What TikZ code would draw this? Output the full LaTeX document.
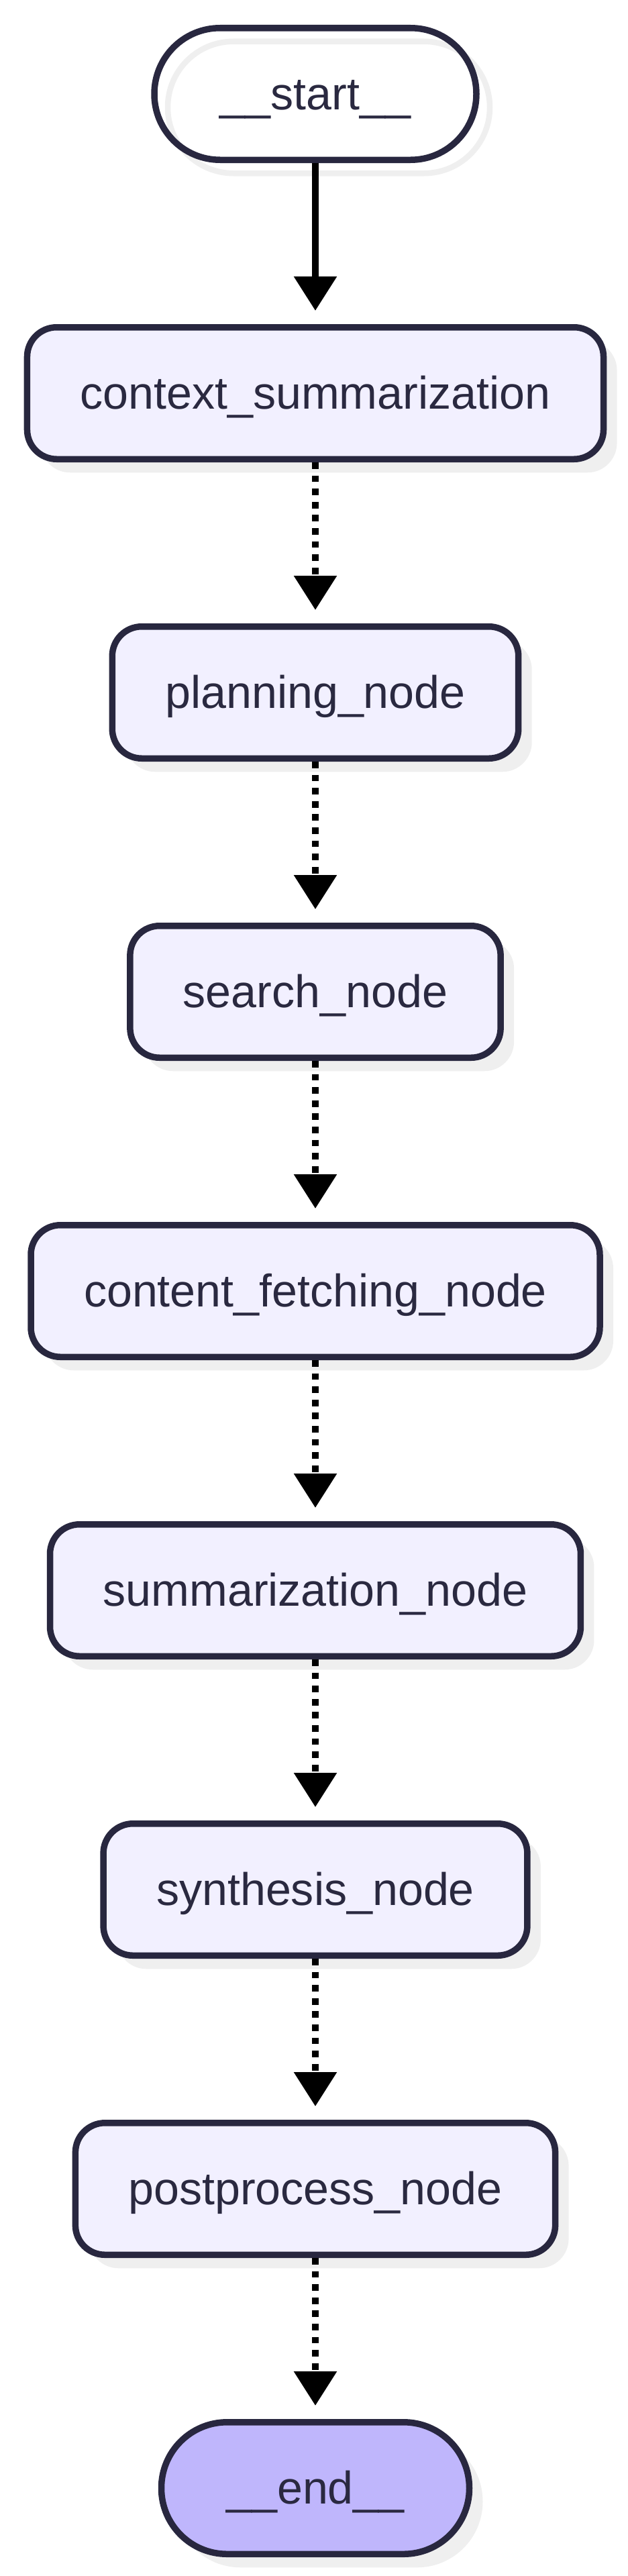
\documentclass[tikz,border=0pt]{standalone}
\usepackage{fontspec}
\setmainfont{Liberation Sans}
\usepackage{xcolor}
\usepackage{tikz}
\usetikzlibrary{arrows.meta,shadows}

\definecolor{nodeline}{HTML}{28273F}
\definecolor{nodetext}{HTML}{2A2940}
\definecolor{nodefill}{HTML}{F2F0FF}
\definecolor{endfill}{HTML}{BFB6FC}
\definecolor{shadowgrey}{HTML}{EFEFEF}

\begin{document}
\begin{tikzpicture}[
    stepbox/.style={rectangle,rounded corners=0.44cm,draw=nodeline,fill=nodefill,
      line width=0.095cm,text=nodetext,minimum height=1.965cm,inner xsep=0.79cm,
      text height=0.56cm,text depth=0.10cm,font=\fontsize{19.4}{23}\selectfont,
      drop shadow={shadow xshift=0.2cm,shadow yshift=-0.2cm,fill=shadowgrey,opacity=1}},
    startbox/.style={rectangle,rounded corners=0.98cm,draw=nodeline,
      line width=0.095cm,text=nodetext,minimum height=1.965cm,inner xsep=0pt,
      text height=0.56cm,text depth=0.10cm,font=\fontsize{19.4}{23}\selectfont,
      general shadow={shadow xshift=0.2cm,shadow yshift=-0.2cm,draw=shadowgrey,fill=none,line width=0.085cm}},
    endbox/.style={rectangle,rounded corners=0.98cm,draw=nodeline,fill=endfill,
      line width=0.095cm,text=nodetext,minimum height=1.965cm,inner xsep=0pt,
      text height=0.56cm,text depth=0.10cm,font=\fontsize{19.4}{23}\selectfont,
      drop shadow={shadow xshift=0.2cm,shadow yshift=-0.2cm,fill=shadowgrey,opacity=1}},
    flow/.style={line width=0.095cm,-{Triangle[width=0.62cm,length=0.51cm]},shorten >=0.2cm},
    cond/.style={flow,dash pattern=on 0.098cm off 0.098cm}]
  \useasboundingbox (0,0) rectangle (9.36,-38.39);

  \node[startbox,minimum width=4.80cm] (start) at (4.70,-1.40) {\_\_start\_\_};
  \node[stepbox] (ctx) at (4.70,-5.86) {context\_summarization};
  \node[stepbox] (plan) at (4.70,-10.32) {planning\_node};
  \node[stepbox] (search) at (4.70,-14.78) {search\_node};
  \node[stepbox] (fetch) at (4.70,-19.24) {content\_fetching\_node};
  \node[stepbox] (summ) at (4.70,-23.70) {summarization\_node};
  \node[stepbox] (synth) at (4.70,-28.16) {synthesis\_node};
  \node[stepbox] (post) at (4.70,-32.62) {postprocess\_node};
  \node[endbox,minimum width=4.59cm] (end) at (4.70,-37.08) {\_\_end\_\_};

  \draw[flow] (start) -- (ctx);
  \draw[cond] (ctx) -- (plan);
  \draw[cond] (plan) -- (search);
  \draw[cond] (search) -- (fetch);
  \draw[cond] (fetch) -- (summ);
  \draw[cond] (summ) -- (synth);
  \draw[cond] (synth) -- (post);
  \draw[cond] (post) -- (end);
\end{tikzpicture}
\end{document}
